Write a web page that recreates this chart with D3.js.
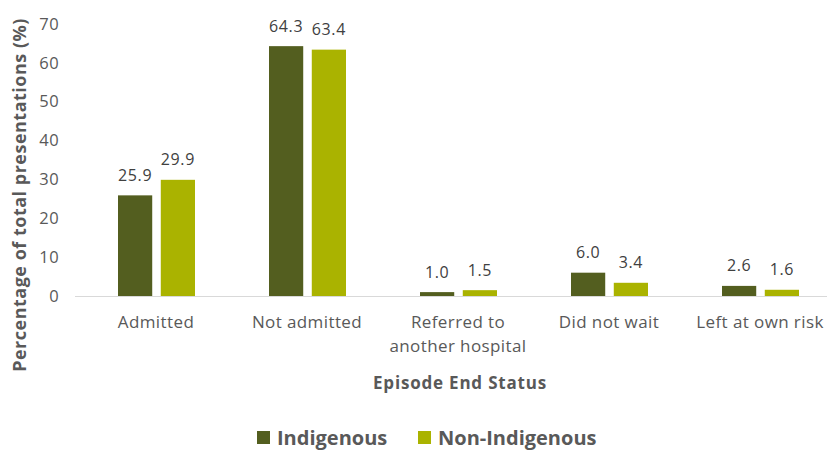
<!DOCTYPE html>
<html><head><meta charset="utf-8">
<script src="https://cdn.jsdelivr.net/npm/d3@7"></script>
<style>body{margin:0;background:#fff}svg{display:block}text{font-family:"Open Sans",sans-serif}</style>
</head><body><svg id="c" width="827" height="452"></svg>
<script>
const categories=[["Admitted"],["Not admitted"],["Referred to","another hospital"],["Did not wait"],["Left at own risk"]];
const seriesNames=["Indigenous","Non-Indigenous"];
const indigenous=[25.9,64.3,1.0,6.0,2.6];
const nonIndigenous=[29.9,63.4,1.5,3.4,1.6];
const yTicks=[0,10,20,30,40,50,60,70];
const colors=["#535E1F","#AAB300"];

const svg=d3.select("#c");
const y=d3.scaleLinear().domain([0,70]).range([296,24]);
const x=d3.scaleBand().domain(d3.range(categories.length)).range([80.5,835.5]);
const xs=d3.scaleBand().domain([0,1]).range([x.bandwidth()/2-38,x.bandwidth()/2+39]).paddingInner(0.2);

svg.append("line").attr("x1",75).attr("x2",827).attr("y1",y(0)+0.5).attr("y2",y(0)+0.5).attr("stroke","#d9d9d9").attr("stroke-width",1);

const ya=svg.append("g").attr("transform","translate(59,0)").call(d3.axisLeft(y).tickValues(yTicks).tickSize(0).tickPadding(0));
ya.select(".domain").remove();
ya.selectAll("text").attr("font-size",16.5).attr("fill","#595959").style("font-family","'Open Sans',sans-serif").attr("letter-spacing",0.4);

const data=[indigenous,nonIndigenous];
data.forEach((vals,si)=>{
  const g=svg.append("g");
  g.selectAll("rect").data(vals).join("rect")
   .attr("x",(d,i)=>x(i)+xs(si)).attr("width",xs.bandwidth())
   .attr("y",d=>y(d)).attr("height",d=>y(0)-y(d)).attr("fill",colors[si]);
  g.selectAll("text").data(vals).join("text")
   .attr("x",(d,i)=>x(i)+xs(si)+xs.bandwidth()/2).attr("y",d=>y(d)-14.5)
   .attr("text-anchor","middle").attr("font-size",16).attr("letter-spacing",0.6).attr("fill","#404040")
   .text(d=>d.toFixed(1));
});

categories.forEach((lines,i)=>{
  const t=svg.append("text").attr("x",x(i)+x.bandwidth()/2).attr("y",328).attr("text-anchor","middle").attr("font-size",17).attr("letter-spacing",0.4).attr("fill","#595959");
  lines.forEach((l,j)=>t.append("tspan").attr("x",x(i)+x.bandwidth()/2).attr("dy",j?24:0).text(l));
});

svg.append("text").attr("x",460).attr("y",389).attr("text-anchor","middle").attr("font-size",17).attr("font-weight","bold").attr("letter-spacing",0.8).attr("fill","#595959").text("Episode End Status");
svg.append("text").attr("transform","translate(26,195) rotate(-90)").attr("text-anchor","middle").attr("font-size",18).attr("font-weight","bold").attr("letter-spacing",0.5).attr("fill","#595959").text("Percentage of total presentations (%)");

const lg=svg.append("g");
const lx=[257,418];
seriesNames.forEach((n,i)=>{
  lg.append("rect").attr("x",lx[i]).attr("y",431).attr("width",13).attr("height",13).attr("fill",colors[i]);
  lg.append("text").attr("x",lx[i]+20).attr("y",445).attr("font-size",20).attr("font-weight","bold").attr("fill","#595959").text(n);
});
</script></body></html>
